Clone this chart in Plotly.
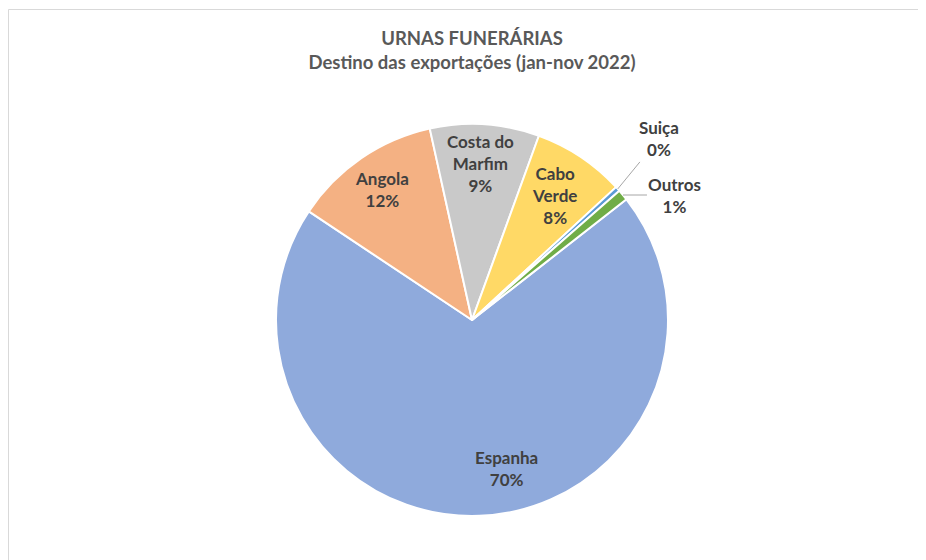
import math
import plotly.graph_objects as go

labels = ["Espanha", "Angola", "Costa do Marfim", "Cabo Verde", "Suiça", "Outros"]
text_labels = ["Espanha", "Angola", "Costa do<br>Marfim", "Cabo<br>Verde", "Suiça", "Outros"]
values = [69.9, 12.2, 9.0, 7.6, 0.4, 0.9]
colors = ["#8FAADC", "#F4B183", "#C9C9C9", "#FFD966", "#5B9BD5", "#70AD47"]

W, H = 926, 560
cx, cy, R = 464, 312, 196
ROT = 52

fig = go.Figure(go.Pie(
    labels=labels,
    values=values,
    sort=False,
    direction="clockwise",
    rotation=ROT,
    marker=dict(colors=colors, line=dict(color="white", width=2)),
    textinfo="none",
    domain=dict(x=[(cx - R) / W, (cx + R) / W], y=[(H - cy - R) / H, (H - cy + R) / H]),
    showlegend=False,
    hoverinfo="label+percent",
))

# label placement (style): radial fraction, angular shift (deg), and for outside labels a text offset
inside_style = {
    "Espanha": (0.78, -11),
    "Angola": (0.81, 0),
    "Costa do Marfim": (0.80, -0.5),
    "Cabo Verde": (0.76, 0),
}
outside_style = {
    "Suiça": (41, -50),
    "Outros": (52, 0),
}

total = sum(values)
annotations = []
cum = 0.0
for lab, txt, v in zip(labels, text_labels, values):
    start = ROT + 360 * cum / total
    cum += v
    end = ROT + 360 * cum / total
    mid = (start + end) / 2
    pct = f"{round(100 * v / total):.0f}%"
    label_text = f"<b>{txt}<br>{pct}</b>"
    if lab in inside_style:
        frac, shift = inside_style[lab]
        a = math.radians(mid + shift)
        px = cx + frac * R * math.sin(a)
        py = cy - frac * R * math.cos(a)
        annotations.append(dict(
            x=px / W, y=1 - py / H, xref="paper", yref="paper",
            xanchor="center", yanchor="middle",
            text=label_text, showarrow=False, align="center",
            font=dict(family="Lato", size=17, color="#404040"),
        ))
    else:
        ax, ay = outside_style[lab]
        a = math.radians(mid)
        px = cx + R * math.sin(a)
        py = cy - R * math.cos(a)
        annotations.append(dict(
            x=px / W, y=1 - py / H, xref="paper", yref="paper",
            text=label_text, showarrow=True, arrowhead=0, arrowwidth=1,
            arrowcolor="#A6A6A6", ax=ax, ay=ay, align="center",
            font=dict(family="Lato", size=17, color="#404040"),
        ))

fig.update_layout(
    width=W, height=H,
    margin=dict(l=0, r=0, t=0, b=0),
    paper_bgcolor="white",
    title=dict(
        text="<b>URNAS FUNERÁRIAS<br>Destino das exportações (jan-nov 2022)</b>",
        x=464 / W, xanchor="center", y=1 - 37 / H, yanchor="middle",
        font=dict(family="Lato", size=18.5, color="#595959"),
    ),
    annotations=annotations,
    shapes=[dict(type="rect", xref="paper", yref="paper",
                 x0=0.5 / W, x1=1.05, y0=-0.05, y1=1 - 1.5 / H,
                 line=dict(color="#D9D9D9", width=1))],
)

fig.write_html("out.html")
